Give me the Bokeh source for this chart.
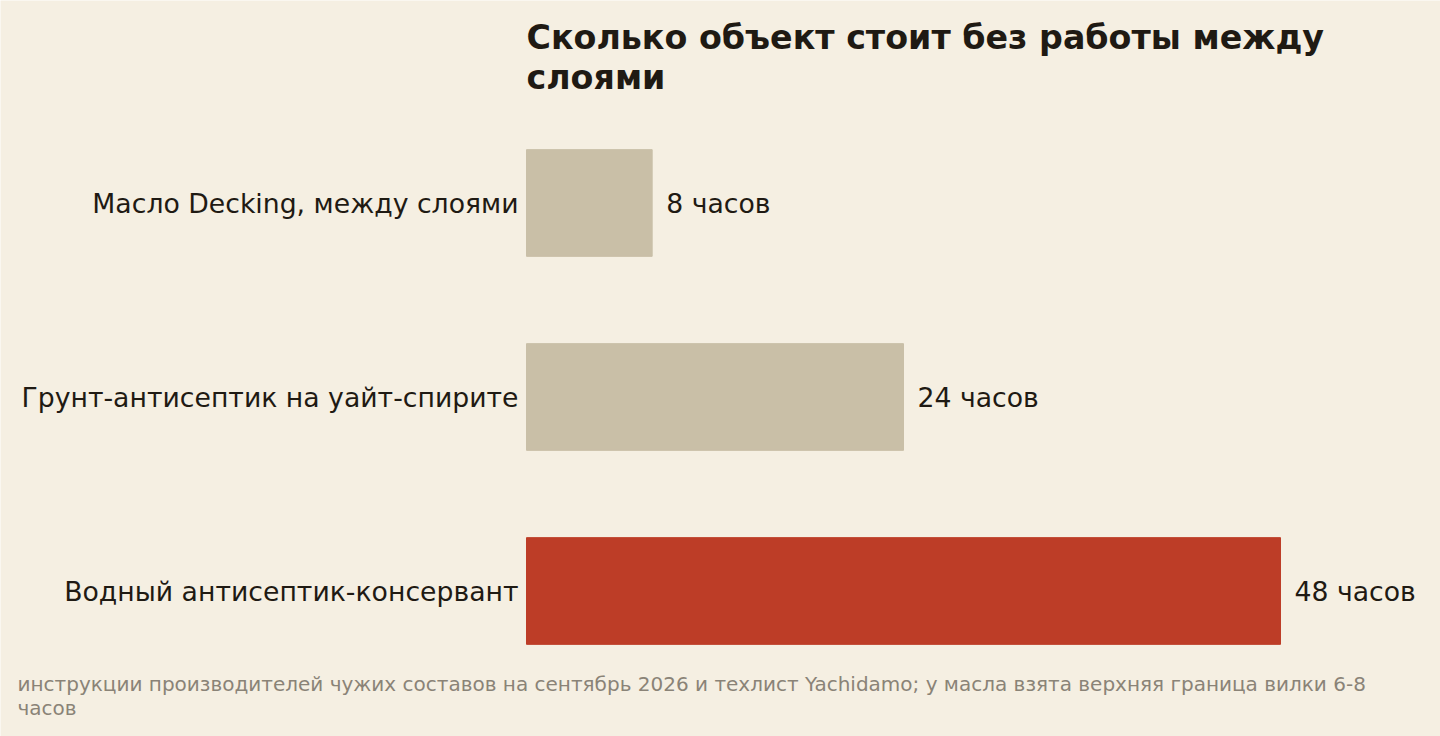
from bokeh.plotting import figure
from bokeh.models import ColumnDataSource, Range1d, Label
from bokeh.core.properties import value
from bokeh.embed import file_html
from bokeh.resources import INLINE

# data
categories = ["Масло Decking, между слоями",
              "Грунт-антисептик на уайт-спирите",
              "Водный антисептик-консервант"]
hours = [8, 24, 48]
hour_labels = ["8 часов", "24 часов", "48 часов"]
colours = ["#c9bfa7", "#c9bfa7", "#bd3d27"]

title_text = "Сколько объект стоит без работы между\nслоями"
source_text = ("инструкции производителей чужих составов на сентябрь 2026 и техлист "
               "Yachidamo; у масла взята верхняя граница вилки 6-8\nчасов")

BG = "#f5efe2"
INK = "#1f1a13"
FONT = "DejaVu Sans"

W, H = 1440, 736
bar_left_px = 526          # where zero hours sits
px_per_hour = 754 / 48
first_row_px = 202.5       # centre of the first row from the top
row_px = 194               # distance between rows

rows = list(range(len(categories)))
src = ColumnDataSource(dict(cat=categories, row=rows, hours=hours, lab=hour_labels,
                            col=colours, zero=[0] * len(rows)))

p = figure(width=W, height=H, output_backend="svg", toolbar_location=None,
           x_range=Range1d(-bar_left_px / px_per_hour, (W - bar_left_px) / px_per_hour),
           y_range=Range1d((H - first_row_px) / row_px, -first_row_px / row_px),
           min_border=0)

p.hbar(y="row", right="hours", left="zero", height=0.55, color="col", source=src)

# value labels
p.text(x="hours", y="row", text="lab", source=src, x_offset=14,
       text_baseline="middle", text_align="left", text_color=INK,
       text_font=value(FONT), text_font_size="26.7px")

# category labels
p.text(x="zero", y="row", text="cat", source=src, x_offset=-8,
       text_baseline="middle", text_align="right", text_color=INK,
       text_font=value(FONT), text_font_size="26.7px")

p.background_fill_color = BG
p.border_fill_color = BG
p.outline_line_color = None
p.grid.visible = False
p.axis.visible = False

p.add_layout(Label(x=bar_left_px, y=H - 17, x_units="screen", y_units="screen",
                   text=title_text, text_baseline="top", text_align="left",
                   text_font=FONT, text_font_size="33.3px", text_font_style="bold",
                   text_line_height=1.05, text_color=INK))

p.add_layout(Label(x=17, y=H - 671, x_units="screen", y_units="screen",
                   text=source_text, text_baseline="top", text_align="left",
                   text_font=FONT, text_font_size="20px", text_line_height=1.0,
                   text_color="#8a8377"))

open("out.html", "w").write(file_html(p, INLINE))
